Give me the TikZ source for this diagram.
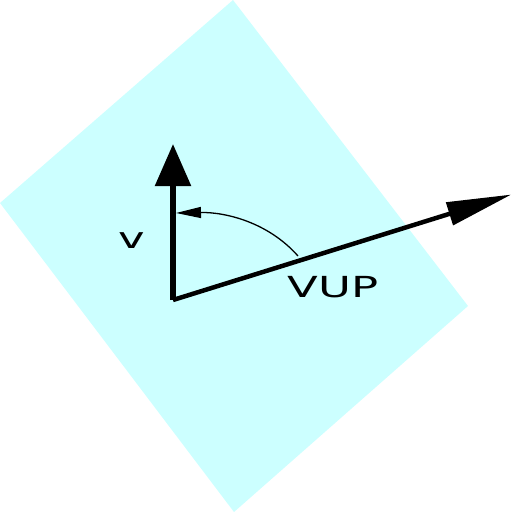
\documentclass[tikz,border=0pt]{standalone}
\usepackage{fontspec}
\setmainfont{DejaVu Sans}
\usetikzlibrary{arrows.meta}
\definecolor{planecyan}{HTML}{CCFFFF}
\tikzset{
  vecline/.style={line width=5.5pt},
  lbl/.style={font=\fontsize{29}{30}\selectfont, xscale=1.55, inner sep=0pt},
}
\begin{document}
\begin{tikzpicture}[x=1pt,y=-1pt]
\useasboundingbox (0,0) rectangle (512,512);
\fill[planecyan] (233,0) -- (468,306) -- (234,512) -- (0,203) -- cycle;
\coordinate (O) at (173,300);
\coordinate (Vt) at (173,144);
\coordinate (Ut) at (511.5,194.5);
\coordinate (Cs) at (298,256);
\coordinate (Ce) at (176,213);
\draw[vecline, -{Triangle[length=42pt,width=35pt]}] (O) -- (Vt);
\draw[vecline, line width=4.5pt, -{Triangle[length=65pt,width=23pt]}] (O) -- (Ut);
\draw[line width=1.3pt, -{Triangle[length=25pt,width=11pt]}] (Cs) .. controls (268,222) and (225,212) .. (Ce);
\node[lbl] (vlab) at (132,241) {v};
\node[lbl] (vuplab) at (333,287) {VUP};
\end{tikzpicture}
\end{document}
